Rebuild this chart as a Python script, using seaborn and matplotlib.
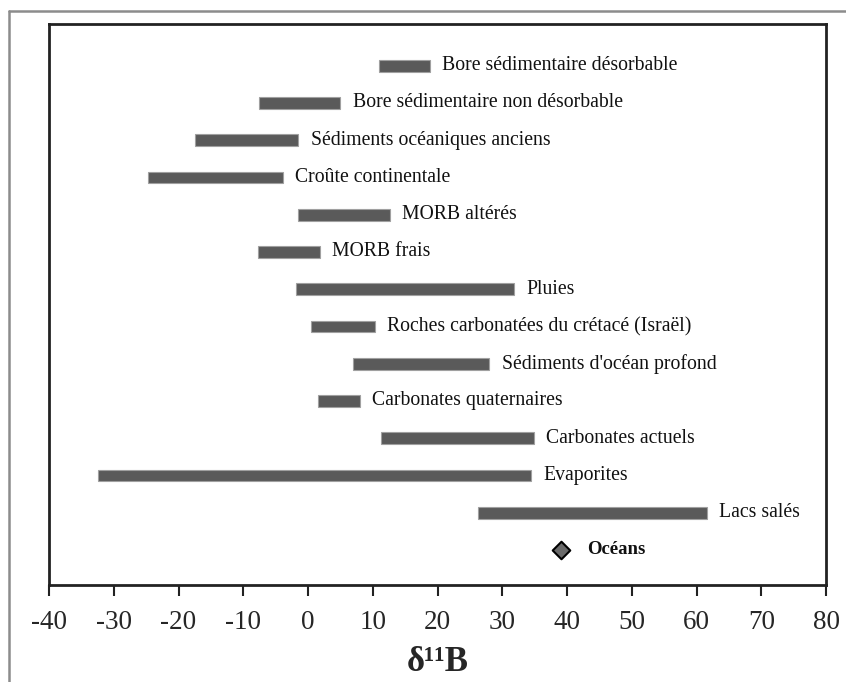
import numpy as np
import pandas as pd
import seaborn as sns
import matplotlib.pyplot as plt
from matplotlib.lines import Line2D

# delta11B ranges
sources = ["Bore sédimentaire désorbable", "Bore sédimentaire non désorbable",
           "Sédiments océaniques anciens", "Croûte continentale", "MORB altérés",
           "MORB frais", "Pluies", "Roches carbonatées du crétacé (Israël)",
           "Sédiments d'océan profond", "Carbonates quaternaires",
           "Carbonates actuels", "Evaporites", "Lacs salés"]
low = [11, -7.5, -17.5, -24.7, -1.5, -7.7, -1.8, 0.5, 7, 1.5, 11.3, -32.5, 26.3]
high = [18.8, 5, -1.5, -3.9, 12.6, 1.8, 31.8, 10.3, 28, 8, 34.9, 34.4, 61.6]
ocean_label = "Océans"
ocean_value = [39]
x_ticks = list(range(-40, 81, 10))

sns.set_theme(style="white")
plt.rcParams['font.family'] = ['Liberation Serif', 'DejaVu Serif']

df = pd.DataFrame({"source": sources, "low": low, "high": high})
df["pos"] = np.arange(len(df))

fig = plt.figure(figsize=(8.46, 6.82), dpi=100)
ax = fig.add_axes([49/846, 97/682, 777/846, 561/682])

# floating range bars
ax.barh(df["pos"], df["high"] - df["low"], left=df["low"], height=0.32,
        color="#5a5a5a", edgecolor="#a0a0a0", linewidth=0.8)
for _, r in df.iterrows():
    ax.annotate(r["source"], (r["high"], r["pos"]), xytext=(9, 0),
                textcoords="offset points", va="center", ha="left",
                fontsize=14.2, color="#111111")

# ocean value
ocean = pd.DataFrame({"x": ocean_value, "y": [len(df)]})
sns.scatterplot(data=ocean, x="x", y="y", marker="D", s=80, color="#6a6a6a",
                edgecolor="black", linewidth=1.5, ax=ax, zorder=3)
ax.annotate(ocean_label, (ocean_value[0], len(df)), xytext=(19, 0),
            textcoords="offset points", va="center", ha="left",
            fontsize=13.5, fontweight="bold", color="#111111")

ax.set_xlim(-40, 80)
ax.set_ylim(len(df) + 0.94, -1.12)
ax.set_xticks(x_ticks)
ax.set_xticklabels([str(t) for t in x_ticks], fontsize=19.5)
ax.set_yticks([])
ax.set_ylabel("")
ax.set_xlabel("δ¹¹B", fontsize=25, fontweight="bold", labelpad=8)
ax.tick_params(axis="x", direction="out", length=8, width=1.5, color="#222222",
               pad=10, bottom=True)
for sp in ax.spines.values():
    sp.set_color("#222222")
    sp.set_linewidth(2)

# outer grey frame of the original picture
fig.add_artist(Line2D([9/846, 1], [1 - 11/682, 1 - 11/682], color="#8c8c8c", lw=1.8))
fig.add_artist(Line2D([9/846, 9/846], [0, 1 - 11/682], color="#8c8c8c", lw=1.8))

fig.savefig("out.png", dpi=100)
